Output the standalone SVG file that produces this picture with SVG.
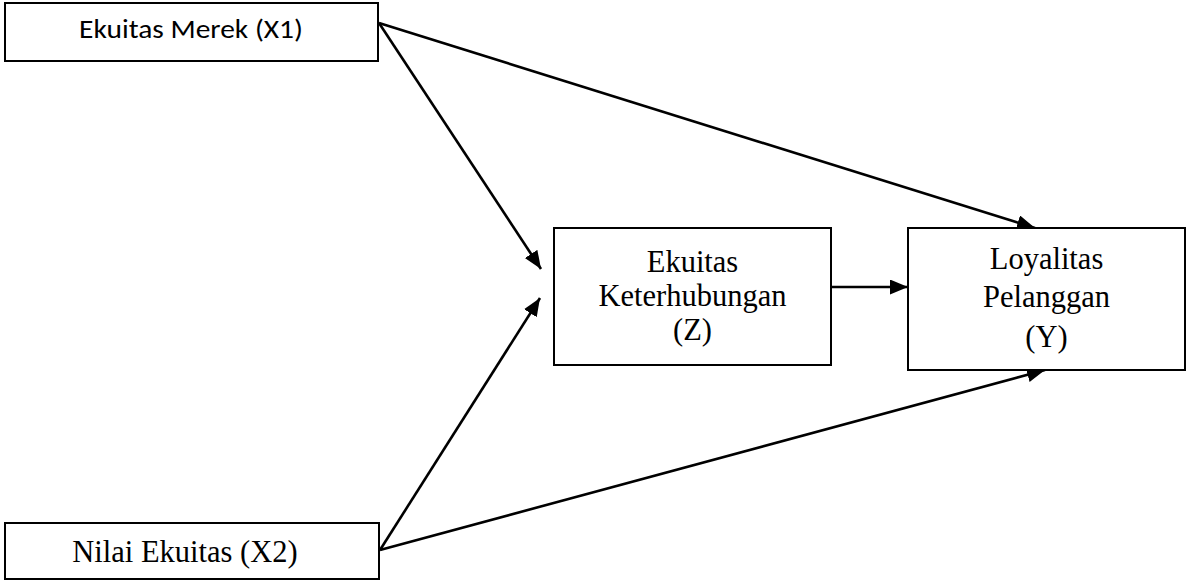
<svg xmlns="http://www.w3.org/2000/svg" width="1186" height="581" viewBox="0 0 1186 581">
  <style>
    .box { fill: #ffffff; stroke: #000000; stroke-width: 2; }
    .sans { font-family: Carlito, Calibri, "Open Sans", sans-serif; font-size: 27px; fill: #000; }
    .serif { font-family: "Liberation Serif", "Times New Roman", serif; font-size: 30.5px; fill: #000; }
    .edge { stroke: #000; stroke-width: 2.6; fill: none; marker-end: url(#arrow); }
  </style>
  <defs>
    <marker id="arrow" markerUnits="userSpaceOnUse" markerWidth="19" markerHeight="16" refX="18" refY="7.5" orient="auto">
      <path d="M0,0 L18,7.5 L0,15 z" fill="#000"/>
    </marker>
  </defs>
  <rect width="1186" height="581" fill="#ffffff"/>
  <g id="connectors">
    <line class="edge" x1="379" y1="23" x2="1035" y2="228"/>
    <line class="edge" x1="379" y1="23" x2="541" y2="269"/>
    <line class="edge" x1="380" y1="550" x2="540" y2="298"/>
    <line class="edge" x1="380" y1="550" x2="1045" y2="370"/>
    <line class="edge" x1="831" y1="287" x2="908" y2="287"/>
  </g>
  <g id="node-x1">
    <rect class="box" x="5" y="3" width="373" height="58"/>
    <text class="sans" x="191" y="38" text-anchor="middle" textLength="224" lengthAdjust="spacingAndGlyphs">Ekuitas Merek (X1)</text>
  </g>
  <g id="node-x2">
    <rect class="box" x="5" y="523" width="374" height="56"/>
    <text class="serif" x="185" y="562" text-anchor="middle">Nilai Ekuitas (X2)</text>
  </g>
  <g id="node-z">
    <rect class="box" x="554" y="228" width="277" height="137"/>
    <text class="serif" x="692.5" y="272" text-anchor="middle">Ekuitas</text>
    <text class="serif" x="692.5" y="306" text-anchor="middle">Keterhubungan</text>
    <text class="serif" x="692.5" y="340" text-anchor="middle">(Z)</text>
  </g>
  <g id="node-y">
    <rect class="box" x="908" y="228" width="277" height="142"/>
    <text class="serif" x="1046.5" y="269" text-anchor="middle">Loyalitas</text>
    <text class="serif" x="1046.5" y="307" text-anchor="middle">Pelanggan</text>
    <text class="serif" x="1046.5" y="347" text-anchor="middle">(Y)</text>
  </g>
</svg>
